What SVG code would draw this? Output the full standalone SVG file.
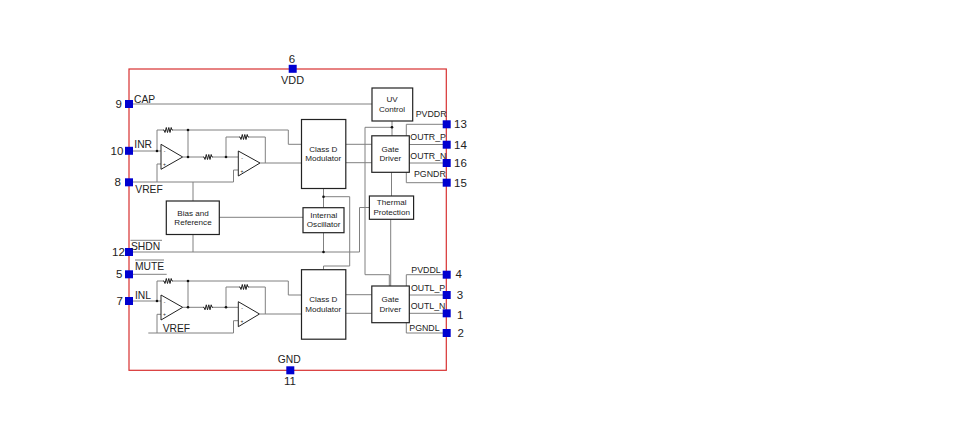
<svg xmlns="http://www.w3.org/2000/svg" width="959" height="444" viewBox="0 0 959 444">
<style>
text{font-family:"Liberation Sans",Arial,sans-serif;fill:#222}
.l{font-size:10.3px}.r{font-size:8.8px}.n{font-size:11.5px}.b{font-size:8.1px;text-anchor:middle}
.m{text-anchor:middle}
.w{fill:none;stroke:#808080;stroke-width:1}
.box{fill:#fff;stroke:#222;stroke-width:1.2}
.pin{fill:#0000d0}
.amp{fill:#fff;stroke:#222;stroke-width:1}
.res{fill:none;stroke:#222;stroke-width:1}
.s{font-size:5px;text-anchor:middle}
</style>
<defs>
<circle id="d" r="1.3" fill="#111"/>
<path id="r" d="M-5 0H-4L-3 2.500L-1.700 -2.500L-.5 2.500L.8 -2.500L2 2.500L3.200 -2.500L4 0H5" class="res"/>
</defs>
<rect width="959" height="444" fill="#fff"/>
<rect x="129" y="69" width="317.300" height="301.300" fill="none" stroke="#d83030" stroke-width="1.2"/>
<g id="connectors">
<path class="w" d="M129 104H372M129 151H161M157 151V130H163M173 130H288.300V144.300H302M188 130V157M161 164H157V182M129 182H233.500V170H238M193 182V201"/>
<path class="w" d="M183 157H203M213 157H238M226 157V137H239M249 137H265.300V163M260 163H302"/>
<path class="w" d="M129 252H359.500V207.500H369.500M193 234V252M219 217.300H303M323.500 189V208M323.500 233V252M323.500 196.700H349.700V266H323.500V270"/>
<path class="w" d="M129 274.300H166.700M129 301H161M157 301V281H163M173 281H288.300V295H302M188 281V307M161 314.300H157V333M148.300 333H233.500V320.700H238"/>
<path class="w" d="M183 307.300H203M213 307.300H238M226 307.300V287H239M249 287H265.300V314M260 314H302"/>
<path class="w" d="M346 144.300H372M346 162.700H372M392 121V136M392 127.300H365V274.700H389.300V286M391.500 172V196M390.700 219V286M346 294.700H372M346 313.300H372"/>
<path class="w" d="M406.300 136V124.300H446M409 144.500H446M409 163H446M406.300 172V182.700H446M406.300 286V274.700H446M409 295H446M409 313.300H446M406.300 322V333H446"/>
<use href="#d" x="157" y="151"/><use href="#d" x="188" y="130"/><use href="#d" x="188" y="157"/><use href="#d" x="226" y="157"/>
<use href="#d" x="157" y="301"/><use href="#d" x="188" y="281"/><use href="#d" x="188" y="307.300"/><use href="#d" x="226" y="307.300"/>
<use href="#d" x="392" y="127.300"/><use href="#d" x="323.500" y="196.700"/><use href="#d" x="323.500" y="252"/>
<use href="#r" x="168" y="130"/><use href="#r" x="208" y="157"/><use href="#r" x="244" y="137"/>
<use href="#r" x="168" y="281"/><use href="#r" x="208" y="307.300"/><use href="#r" x="244" y="287"/>
</g>
<g id="amp1"><path class="amp" d="M161 144.300V169.300L182.700 157Z"/><text class="s" x="164.500" y="153">-</text><text class="s" x="164.500" y="166">+</text></g>
<g id="amp2"><path class="amp" d="M238.300 151V176L260 163Z"/><text class="s" x="242" y="160">-</text><text class="s" x="242" y="172.500">+</text></g>
<g id="amp3"><path class="amp" d="M161 295V320L182.700 307.300Z"/><text class="s" x="164.500" y="303.500">-</text><text class="s" x="164.500" y="316">+</text></g>
<g id="amp4"><path class="amp" d="M238.300 301.700V326.700L259.500 314Z"/><text class="s" x="242" y="310">-</text><text class="s" x="242" y="322.500">+</text></g>
<g id="uv"><rect class="box" x="372" y="88" width="40.700" height="33"/><text class="b" x="392" y="101.700">UV</text><text class="b" x="392" y="111.700">Control</text></g>
<g id="classd1"><rect class="box" x="301.500" y="119.500" width="44.300" height="69"/><text class="b" x="323.300" y="151.700">Class D</text><text class="b" x="323.300" y="161.300">Modulator</text></g>
<g id="gate1"><rect class="box" x="371.800" y="135.800" width="37.500" height="36.500"/><text class="b" x="390.300" y="151.700">Gate</text><text class="b" x="390.300" y="161.300">Driver</text></g>
<g id="thermal"><rect class="box" x="369.400" y="196" width="44.200" height="23.300"/><text class="b" x="391.700" y="205.300">Thermal</text><text class="b" x="391.700" y="215">Protection</text></g>
<g id="bias"><rect class="box" x="166.300" y="201" width="53" height="33.500"/><text class="b" x="193" y="215.700">Bias and</text><text class="b" x="193" y="225">Reference</text></g>
<g id="osc"><rect class="box" x="303" y="207.700" width="41" height="25"/><text class="b" x="323.700" y="217.700">Internal</text><text class="b" x="323.700" y="227.300">Oscillator</text></g>
<g id="classd2"><rect class="box" x="301.500" y="269.700" width="44.300" height="69.500"/><text class="b" x="323.300" y="302">Class D</text><text class="b" x="323.300" y="311.700">Modulator</text></g>
<g id="gate2"><rect class="box" x="371.800" y="286" width="37.500" height="36.700"/><text class="b" x="390.300" y="302">Gate</text><text class="b" x="390.300" y="311.700">Driver</text></g>
<g id="pin6"><rect class="pin" x="288.700" y="64.800" width="8" height="8"/><text class="n m" x="292" y="62.700">6</text><text class="l m" x="292.500" y="83.500" style="font-size:10.9px">VDD</text></g>
<g id="pin9"><rect class="pin" x="125" y="100" width="8" height="8"/><text class="n" x="115.500" y="107.800">9</text><text class="l" x="134" y="102.800">CAP</text></g>
<g id="pin10"><rect class="pin" x="125" y="146.800" width="8" height="8"/><text class="n" x="110.500" y="154.500">10</text><text class="l" x="134.300" y="148.300">INR</text></g>
<g id="pin8"><rect class="pin" x="125" y="178.300" width="8" height="8"/><text class="n" x="114.500" y="186">8</text><text class="l" x="135.300" y="192.700">VREF</text></g>
<g id="pin12"><rect class="pin" x="125" y="248" width="8" height="8"/><text class="n" x="112" y="256">12</text><text class="l" x="131" y="250">SHDN</text><path class="w" d="M130.500 240.300H162"/></g>
<g id="pin5"><rect class="pin" x="125" y="270.300" width="8" height="8"/><text class="n" x="116" y="278.300">5</text><text class="l" x="135" y="270">MUTE</text><path class="w" d="M135 260H164"/></g>
<g id="pin7"><rect class="pin" x="125" y="297" width="8" height="8"/><text class="n" x="116.500" y="305">7</text><text class="l" x="135" y="298.700">INL</text></g>
<g id="pin11"><rect class="pin" x="286.300" y="366.300" width="8" height="8"/><text class="l" x="277.700" y="362.700">GND</text><text class="n m" x="290" y="385">11</text></g>
<g id="pin13"><rect class="pin" x="442.700" y="120.300" width="8" height="8"/><text class="n" x="454" y="128.200">13</text><text class="r" x="415.700" y="117.300">PVDDR</text></g>
<g id="pin14"><rect class="pin" x="442.700" y="140.700" width="8" height="8"/><text class="n" x="454" y="148.700">14</text><text class="r" x="410.300" y="140">OUTR_P</text></g>
<g id="pin16"><rect class="pin" x="442.700" y="159" width="8" height="8"/><text class="n" x="454" y="167">16</text><text class="r" x="410.300" y="158.700">OUTR_N</text></g>
<g id="pin15"><rect class="pin" x="442.700" y="178.700" width="8" height="8"/><text class="n" x="454" y="186.700">15</text><text class="r" x="414" y="177.300">PGNDR</text></g>
<g id="pin4"><rect class="pin" x="442.700" y="270.700" width="8" height="8"/><text class="n" x="455.500" y="278.300">4</text><text class="r" x="411.300" y="273">PVDDL</text></g>
<g id="pin3"><rect class="pin" x="442.700" y="291" width="8" height="8"/><text class="n" x="456.800" y="299.300">3</text><text class="r" x="411" y="290.700">OUTL_P</text></g>
<g id="pin1"><rect class="pin" x="442.700" y="309.300" width="8" height="8"/><text class="n" x="457" y="319">1</text><text class="r" x="410.700" y="309.300">OUTL_N</text></g>
<g id="pin2"><rect class="pin" x="442.700" y="329" width="8" height="8"/><text class="n" x="457.500" y="337">2</text><text class="r" x="409.300" y="331">PGNDL</text></g>
<text class="l" x="162.700" y="332">VREF</text>
</svg>
